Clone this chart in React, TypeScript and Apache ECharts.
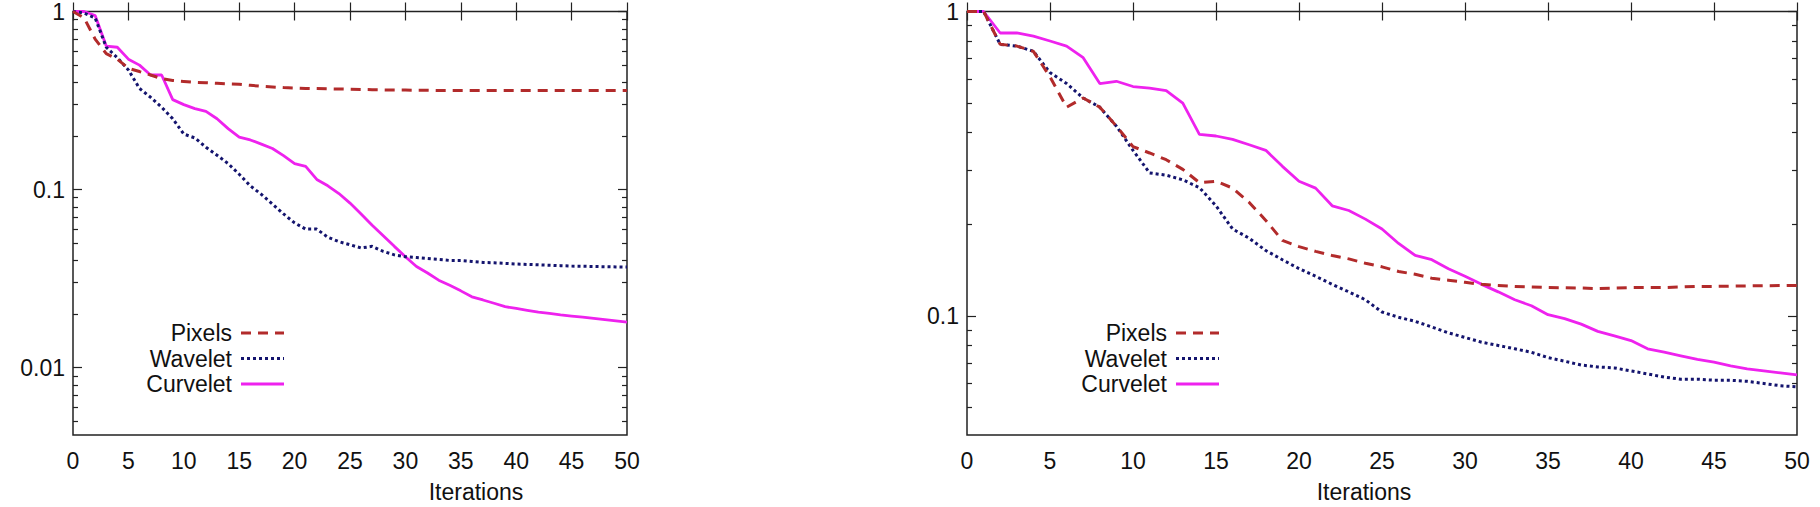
import React, { useEffect, useRef } from "react";
import * as echarts from "echarts";

const iterations = Array.from({ length: 51 }, (_, i) => i);
const xTicks = [0, 5, 10, 15, 20, 25, 30, 35, 40, 45, 50];

const leftPixels = [1, 0.92, 0.7, 0.58, 0.54, 0.48, 0.46, 0.44, 0.42, 0.41, 0.405, 0.4, 0.398, 0.395, 0.392, 0.39, 0.385, 0.38, 0.377, 0.374, 0.372, 0.37, 0.369, 0.368, 0.367, 0.366, 0.365, 0.364, 0.363, 0.362, 0.362, 0.361, 0.361, 0.36, 0.36, 0.36, 0.36, 0.36, 0.36, 0.36, 0.36, 0.36, 0.36, 0.36, 0.36, 0.36, 0.36, 0.36, 0.36, 0.36, 0.36];
const leftWavelet = [1, 0.98, 0.92, 0.63, 0.55, 0.47, 0.37, 0.33, 0.29, 0.25, 0.205, 0.195, 0.173, 0.156, 0.14, 0.122, 0.105, 0.094, 0.083, 0.073, 0.065, 0.06, 0.06, 0.054, 0.051, 0.049, 0.047, 0.048, 0.045, 0.043, 0.042, 0.0415, 0.041, 0.0405, 0.04, 0.04, 0.0395, 0.039, 0.0388, 0.0385, 0.0382, 0.038, 0.0378, 0.0376, 0.0374, 0.0372, 0.0371, 0.037, 0.0369, 0.0368, 0.0367];
const leftCurvelet = [1, 1, 0.95, 0.64, 0.63, 0.54, 0.5, 0.44, 0.44, 0.32, 0.3, 0.285, 0.275, 0.25, 0.22, 0.197, 0.19, 0.18, 0.17, 0.155, 0.14, 0.135, 0.114, 0.105, 0.095, 0.084, 0.073, 0.063, 0.055, 0.048, 0.042, 0.037, 0.034, 0.031, 0.029, 0.027, 0.025, 0.024, 0.023, 0.022, 0.0215, 0.021, 0.0205, 0.0202, 0.0198, 0.0195, 0.0192, 0.0189, 0.0186, 0.0183, 0.018];

const rightPixels = [1, 1, 0.78, 0.77, 0.74, 0.61, 0.485, 0.52, 0.485, 0.42, 0.36, 0.343, 0.326, 0.303, 0.274, 0.277, 0.263, 0.236, 0.206, 0.177, 0.169, 0.163, 0.158, 0.154, 0.149, 0.145, 0.14, 0.137, 0.133, 0.131, 0.129, 0.127, 0.126, 0.125, 0.1245, 0.124, 0.1238, 0.1235, 0.123, 0.1235, 0.124, 0.124, 0.124, 0.1245, 0.125, 0.125, 0.1253, 0.1255, 0.1257, 0.1258, 0.126];
const rightWavelet = [1, 1, 0.78, 0.77, 0.74, 0.63, 0.58, 0.52, 0.485, 0.42, 0.35, 0.295, 0.29, 0.28, 0.264, 0.23, 0.193, 0.18, 0.164, 0.153, 0.143, 0.135, 0.127, 0.12, 0.113, 0.103, 0.099, 0.096, 0.092, 0.088, 0.085, 0.082, 0.08, 0.078, 0.076, 0.073, 0.071, 0.069, 0.068, 0.0675, 0.066, 0.0645, 0.063, 0.062, 0.062, 0.0615, 0.0615, 0.061, 0.06, 0.059, 0.0585];
const rightCurvelet = [1, 1, 0.85, 0.85, 0.83, 0.8, 0.77, 0.705, 0.58, 0.59, 0.567, 0.56, 0.55, 0.5, 0.395, 0.39, 0.38, 0.365, 0.35, 0.31, 0.277, 0.263, 0.23, 0.222, 0.208, 0.193, 0.173, 0.158, 0.153, 0.143, 0.135, 0.127, 0.12, 0.113, 0.108, 0.101, 0.098, 0.094, 0.089, 0.086, 0.083, 0.078, 0.076, 0.074, 0.072, 0.0705, 0.0685, 0.067, 0.066, 0.065, 0.064];

const legendNames = ["Pixels", "Wavelet", "Curvelet"];
const colors = ["#b22b2b", "#14146e", "#ee22ee"];
const FONT = "Liberation Sans, Arial, sans-serif";
const FS = 23;

function minorTicks(minLog: number) {
  const out: number[] = [];
  for (let d = -4; d < 0; d++) {
    for (let k = 2; k <= 9; k++) {
      const v = Math.log10(k) + d;
      if (v > minLog && v < 0) out.push(v);
    }
  }
  return out;
}
function majorTicks(minLog: number) {
  const out: number[] = [];
  for (let d = -4; d <= 0; d++) if (d >= minLog) out.push(d);
  return out;
}

export default function App() {
  const ref = useRef<HTMLDivElement>(null);
  useEffect(() => {
    const chart = echarts.init(ref.current!, undefined, { renderer: "svg" });
    const panels = [
      { left: 73, width: 554, minLog: -2.378, data: [leftPixels, leftWavelet, leftCurvelet], legX: 232, xname: 476 },
      { left: 967, width: 830, minLog: -1.391, data: [rightPixels, rightWavelet, rightCurvelet], legX: 1167, xname: 1364 },
    ];
    const grid: any[] = [];
    const xAxis: any[] = [];
    const yAxis: any[] = [];
    const series: any[] = [];
    const graphic: any[] = [];
    panels.forEach((p, gi) => {
      grid.push({ left: p.left, width: p.width, top: 8, height: 427, show: true, borderColor: "#222", borderWidth: 1.5, backgroundColor: "transparent" });
      const xBase = { type: "value", gridIndex: gi, min: 0, max: 50, interval: 5, axisLine: { show: false }, splitLine: { show: false } };
      xAxis.push({ ...xBase, position: "bottom", axisTick: { inside: true, length: 9, lineStyle: { color: "#222", width: 1.2 } }, axisLabel: { color: "#111", fontSize: FS, fontFamily: FONT, margin: 14, customValues: xTicks } });
      xAxis.push({ ...xBase, position: "top", axisTick: { inside: true, length: 9, lineStyle: { color: "#222", width: 1.2 } }, axisLabel: { show: false } });
      const yBase = { type: "value", gridIndex: gi, min: p.minLog, max: 0, axisLine: { show: false }, splitLine: { show: false } };
      const maj = majorTicks(p.minLog);
      const mnr = minorTicks(p.minLog);
      ["left", "right"].forEach((pos) => {
        yAxis.push({ ...yBase, position: pos, axisTick: { inside: true, length: 9, customValues: maj, lineStyle: { color: "#222", width: 1.2 } },
          axisLabel: pos === "left" ? { show: true, customValues: maj, color: "#111", fontSize: FS, fontFamily: FONT, margin: 8, formatter: (v: number) => String(Number(Math.pow(10, v).toPrecision(1))) } : { show: false } });
        yAxis.push({ ...yBase, position: pos, axisTick: { inside: true, length: 5, customValues: mnr, lineStyle: { color: "#222", width: 1.2 } }, axisLabel: { show: false } });
      });
      p.data.forEach((arr, si) => {
        series.push({
          type: "line", xAxisIndex: gi * 2, yAxisIndex: gi * 4, showSymbol: false, symbol: "none",
          data: iterations.map((x, i) => [x, Math.log10(arr[i])]),
          lineStyle: { color: colors[si], width: si === 2 ? 2.8 : 3, type: si === 0 ? [10, 7] : si === 1 ? [3, 3] : "solid" },
          z: 3 - si,
        });
      });
      legendNames.forEach((n, si) => {
        const y = 333 + si * 25.5;
        graphic.push({ type: "text", x: p.legX, y, style: { text: n, fontSize: FS, fontFamily: FONT, fill: "#111", align: "right", verticalAlign: "middle" } });
        graphic.push({ type: "line", shape: { x1: p.legX + 9, y1: y, x2: p.legX + 52, y2: y }, style: { stroke: colors[si], lineWidth: 3, lineDash: si === 0 ? [10, 7] : si === 1 ? [3, 3] : null } });
      });
      graphic.push({ type: "text", x: p.xname, y: 492, style: { text: "Iterations", fontSize: FS, fontFamily: FONT, fill: "#111", align: "center", verticalAlign: "middle" } });
    });
    chart.setOption({ animation: false, backgroundColor: "#fff", grid, xAxis, yAxis, series, graphic });
    return () => chart.dispose();
  }, []);
  return <div ref={ref} style={{ position: "fixed", left: 0, top: 0, width: 1820, height: 507 }} />;
}
